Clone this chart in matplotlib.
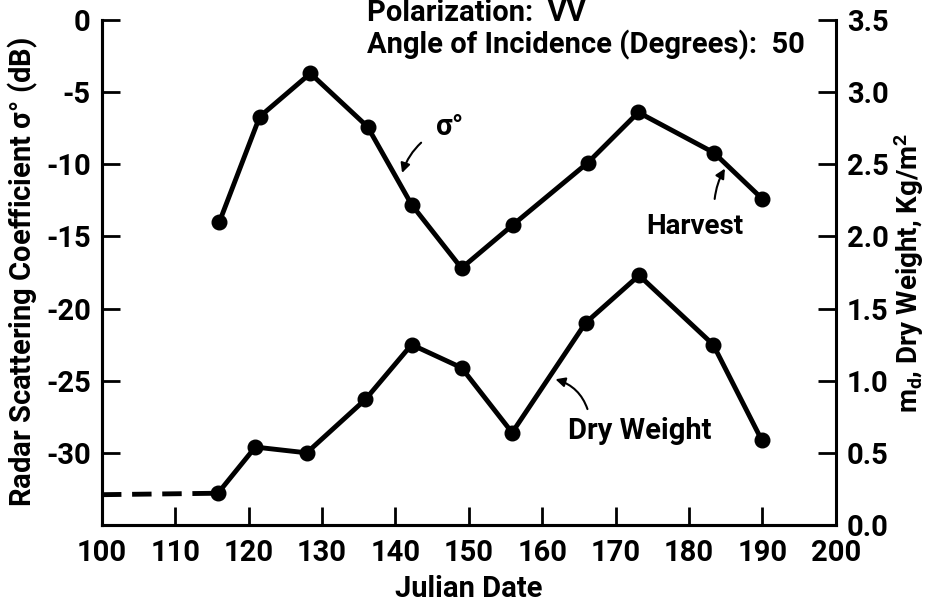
import matplotlib
matplotlib.use("Agg")
import matplotlib.pyplot as plt
import numpy as np

# sigma0 (dB, left axis)
sigma_day = [116, 121.5, 128.4, 136.2, 142.2, 149.0, 156.0, 166.2, 173.1, 183.4, 190.0]
sigma_db = [-14.0, -6.7, -3.7, -7.4, -12.8, -17.2, -14.2, -9.9, -6.4, -9.2, -12.4]

# dry weight (kg/m^2, right axis)
dry_day = [115.8, 120.9, 127.9, 135.9, 142.2, 149.0, 155.9, 165.9, 173.2, 183.3, 189.9]
dry_kg = [0.22, 0.54, 0.50, 0.87, 1.25, 1.09, 0.64, 1.40, 1.73, 1.25, 0.59]

# dashed extrapolation back to day 100
dash_day = [100, 115.8]
dash_kg = [0.21, 0.22]

xticks = list(range(100, 201, 10))
left_ticks = [0, -5, -10, -15, -20, -25, -30]
right_ticks = [0.0, 0.5, 1.0, 1.5, 2.0, 2.5, 3.0, 3.5]

fam = ["Roboto", "DejaVu Sans"]
plt.rcParams["font.family"] = fam
plt.rcParams["font.weight"] = "bold"
plt.rcParams["axes.labelweight"] = "bold"
plt.rcParams["mathtext.fontset"] = "custom"
plt.rcParams["mathtext.rm"] = "Roboto:bold"
plt.rcParams["mathtext.it"] = "Roboto:bold"

fig = plt.figure(figsize=(9.39, 6.06), dpi=100)
ax = fig.add_axes([0.1086, 0.1337, 0.7814, 0.8333])
ax2 = ax.twinx()

lw = 3.5
ms = 10.5
ax.plot(sigma_day, sigma_db, "-o", color="black", lw=lw, ms=ms)
ax2.plot(dry_day, dry_kg, "-o", color="black", lw=lw, ms=ms)
ax2.plot(dash_day, dash_kg, "--", color="black", lw=lw, dashes=(4, 2.2))

ax.set_xlim(100, 200)
ax.set_ylim(-35, 0)
ax2.set_ylim(0, 3.5)

ax.set_xticks(xticks)
ax.set_xticklabels([str(t) for t in xticks])
ax.set_yticks(left_ticks)
ax.set_yticklabels([str(t) for t in left_ticks])
ax2.set_yticks(right_ticks)
ax2.set_yticklabels(["%.1f" % t for t in right_ticks])

for a in (ax, ax2):
  a.spines["top"].set_visible(False)
  for s in a.spines.values():
    s.set_linewidth(2.2)
ax.spines["right"].set_visible(False)

ax.tick_params(axis="both", direction="in", length=13, width=2, labelsize=21, pad=8)
ax.tick_params(axis="x", pad=10)
ax2.tick_params(axis="y", direction="in", length=13, width=2, labelsize=21, pad=8)

ax.set_xlabel("Julian Date", fontsize=21, labelpad=6)
ax.set_ylabel(r"Radar Scattering Coefficient $\sigma$° (dB)", fontsize=21, labelpad=4)
ax2.set_ylabel(r"m$_d$, Dry Weight, Kg/m$^2$", fontsize=20, labelpad=2)

ax.text(136.1, 0.5, "Polarization:  VV", fontsize=21, ha="left", va="center", clip_on=False)
ax.text(136.1, -1.75, "Angle of Incidence (Degrees):  50", fontsize=21, ha="left", va="center", clip_on=False)

arrow = dict(arrowstyle="-|>", color="black", lw=1.5, mutation_scale=14)
ax.annotate(r"$\sigma$°", xy=(140.9, -10.6), xytext=(147.3, -7.4), fontsize=21,
            ha="center", va="center",
            arrowprops=dict(arrow, connectionstyle="arc3,rad=0.25", shrinkA=10, shrinkB=0))
ax.annotate("Harvest", xy=(184.9, -10.3), xytext=(180.8, -14.3), fontsize=20,
            ha="center", va="center",
            arrowprops=dict(arrow, connectionstyle="arc3,rad=-0.15", shrinkA=8, shrinkB=0,
                            relpos=(0.7, 1.0)))
ax.annotate("Dry Weight", xy=(161.8, -24.9), xytext=(173.3, -28.5), fontsize=21,
            ha="center", va="center",
            arrowprops=dict(arrow, connectionstyle="arc3,rad=0.3", shrinkA=4, shrinkB=0,
                            relpos=(0.15, 1.0)))

fig.savefig("out.png", dpi=100)
